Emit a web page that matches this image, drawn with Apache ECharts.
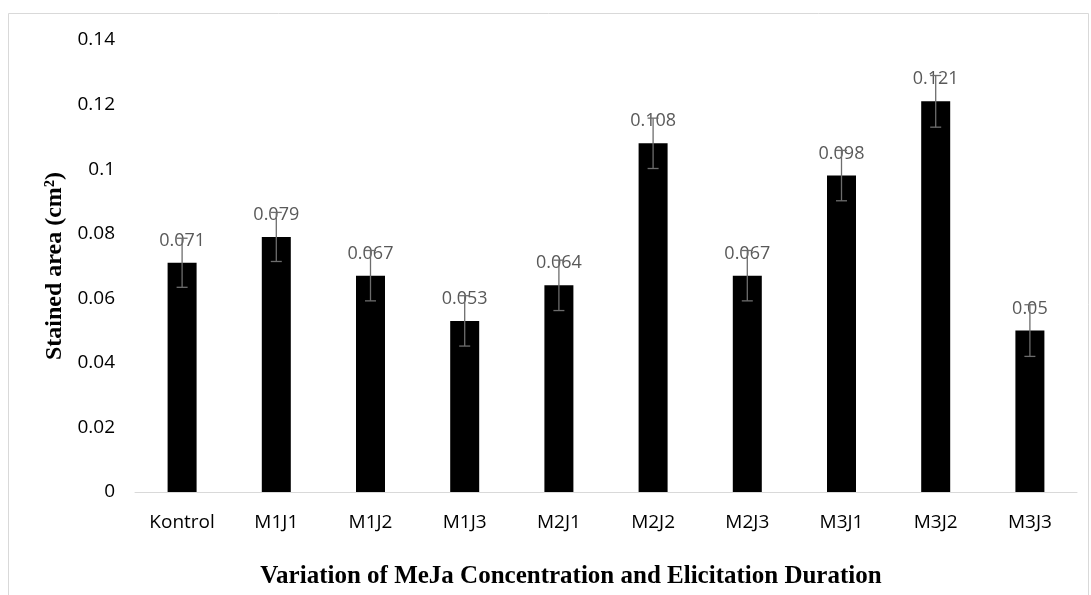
<!DOCTYPE html>
<html>
<head>
<meta charset="utf-8">
<script src="https://cdn.jsdelivr.net/npm/echarts@6/dist/echarts.min.js"></script>
<style>
  html, body { margin: 0; padding: 0; background: #fff; }
  #chart { width: 1091px; height: 595px; }
</style>
</head>
<body>
<div id="chart"></div>
<script>
var categories = ['Kontrol', 'M1J1', 'M1J2', 'M1J3', 'M2J1', 'M2J2', 'M2J3', 'M3J1', 'M3J2', 'M3J3'];
var values = [0.071, 0.079, 0.067, 0.053, 0.064, 0.108, 0.067, 0.098, 0.121, 0.05];
var errors = [0.0076, 0.0076, 0.0078, 0.0078, 0.0078, 0.0078, 0.0078, 0.0078, 0.008, 0.008];

var myChart = echarts.init(document.getElementById('chart'));

var errData = values.map(function (v, i) {
    return [i, v - errors[i], v + errors[i]];
});

var option = {
    backgroundColor: '#fff',
    animation: false,
    graphic: [{
        type: 'rect',
        shape: { x: 8.5, y: 13.5, width: 1080, height: 600 },
        style: { fill: 'none', stroke: '#d9d9d9', lineWidth: 1 },
        silent: true
    }],
    grid: { left: 135, right: 14, top: 40, bottom: 103 },
    xAxis: {
        type: 'category',
        data: categories,
        name: 'Variation of MeJa Concentration and Elicitation Duration',
        nameLocation: 'middle',
        nameGap: 72,
        nameTextStyle: {
            fontFamily: 'Liberation Serif', fontWeight: 'bold', fontSize: 25, color: '#000',
            padding: [0, 70, 0, 0]
        },
        axisLine: { lineStyle: { color: '#d9d9d9', width: 1 } },
        axisTick: { show: false },
        axisLabel: { margin: 21, fontFamily: 'Open Sans', fontSize: 19, color: '#000' }
    },
    yAxis: {
        type: 'value',
        min: 0,
        max: 0.14,
        interval: 0.02,
        name: 'Stained area (cm²)',
        nameLocation: 'middle',
        nameGap: 68,
        nameRotate: 90,
        nameTextStyle: { fontFamily: 'Liberation Serif', fontWeight: 'bold', fontSize: 24, color: '#000' },
        axisLine: { show: false },
        axisTick: { show: false },
        splitLine: { show: false },
        axisLabel: { margin: 20, fontFamily: 'Open Sans', fontSize: 19, color: '#000' }
    },
    series: [
        {
            name: 'Stained area',
            type: 'bar',
            data: values,
            barWidth: 29,
            itemStyle: { color: '#000' },
            label: {
                show: true,
                position: 'top',
                distance: 13,
                fontFamily: 'Open Sans',
                fontSize: 18,
                color: '#595959'
            },
            z: 2
        },
        {
            type: 'custom',
            data: errData,
            z: 5,
            renderItem: function (params, api) {
                var x = api.value(0);
                var lo = api.coord([x, api.value(1)]);
                var hi = api.coord([x, api.value(2)]);
                var cap = 5.5;
                var st = { stroke: '#6d6d6d', lineWidth: 1.3 };
                return {
                    type: 'group',
                    children: [
                        { type: 'line', shape: { x1: lo[0], y1: lo[1], x2: hi[0], y2: hi[1] }, style: st },
                        { type: 'line', shape: { x1: lo[0] - cap, y1: lo[1], x2: lo[0] + cap, y2: lo[1] }, style: st },
                        { type: 'line', shape: { x1: hi[0] - cap, y1: hi[1], x2: hi[0] + cap, y2: hi[1] }, style: st }
                    ]
                };
            }
        }
    ]
};
myChart.setOption(option);
</script>
</body>
</html>
